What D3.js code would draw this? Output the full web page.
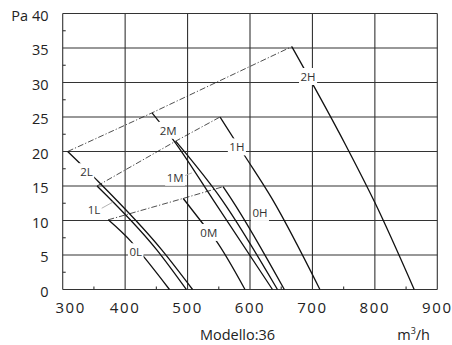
<!DOCTYPE html>
<html>
<head>
<meta charset="utf-8">
<script src="https://cdn.jsdelivr.net/npm/d3@7"></script>
<style>
  body { margin: 0; background: #fff; }
  svg { display: block; font-family: "Open Sans", sans-serif; }
</style>
</head>
<body>
<script>
// axis values
const xTicks = [300, 400, 500, 600, 700, 800, 900];
const yTicks = [0, 5, 10, 15, 20, 25, 30, 35, 40];
const xMinor = [350, 450, 550, 650, 750, 850];
const yMinor = [2.5, 7.5, 12.5, 17.5, 22.5, 27.5, 32.5, 37.5];

// fan curves, [m3/h, Pa]
const c0L = [[373, 10.1], [410, 6.9], [432, 4.5], [471, 0]];
const c1L = [[355, 15], [451, 5.7], [498, 0]];
const c2L = [[308, 20], [352, 16.1], [459, 5.7], [508, 0]];
const c0M = [[493, 13.2], [524, 9.6], [544, 7.3], [592, 0]];
const c1M = [[481, 21.5], [555, 13], [644, 0]];
const c2M = [[443, 25.6], [477, 21.7], [541, 13], [636, 0]];
const c0H = [[557, 14.9], [571, 13], [655, 0]];
const c1H = [[552, 25], [590, 19.6], [635, 13.2], [712, 0]];
const c2H = [[667, 35.2], [754, 20.8], [800, 12.6], [863, 0]];

const curves = [c0L, c1L, c2L, c0M, c1M, c2M, c0H, c1H, c2H];

// dash-dot lines join the top of the L, M and H curves of each step
const steps = [
    [c0L[0], c0M[0], c0H[0]],
    [c1L[0], c1M[0], c1H[0]],
    [c2L[0], c2M[0], c2H[0]]
];

// curve names and where they sit
const labelNames = ["2L", "1L", "0L", "2M", "1M", "0M", "2H", "1H", "0H"];
const labelAt = [[338, 17], [350, 11.5], [417, 5.4], [469, 23], [480, 16.2], [534, 8.2], [693, 30.8], [579, 20.6], [616, 11.1]];
// thin grey pointers from a label to its curve
const leaders = [
    {from: [359, 11.6], to: [381, 12.7]},
    {from: [493, 16.4], to: [507, 16.9]}
];

const width = 452, height = 345;

const x = d3.scaleLinear().domain([300, 900]).range([62.7, 437.3]);
const y = d3.scaleLinear().domain([0, 40]).range([289.5, 13.5]);

const svg = d3.select("body").append("svg")
    .attr("width", width)
    .attr("height", height);

// grid
const grid = svg.append("g")
    .attr("stroke", "#333")
    .attr("stroke-width", 1.1);

grid.selectAll(".vx")
    .data(xTicks)
    .enter()
    .append("line")
    .attr("x1", d => x(d)).attr("x2", d => x(d))
    .attr("y1", y(0)).attr("y2", y(40));

grid.selectAll(".hy")
    .data(yTicks)
    .enter()
    .append("line")
    .attr("x1", x(300)).attr("x2", x(900))
    .attr("y1", d => y(d)).attr("y2", d => y(d));

// minor ticks, inside the frame
grid.selectAll(".mx")
    .data(xMinor)
    .enter()
    .append("line")
    .attr("x1", d => x(d)).attr("x2", d => x(d))
    .attr("y1", y(0)).attr("y2", y(0) - 3);

grid.selectAll(".my")
    .data(yMinor)
    .enter()
    .append("line")
    .attr("x1", x(300)).attr("x2", x(300) + 3)
    .attr("y1", d => y(d)).attr("y2", d => y(d));

// tick labels
svg.append("g")
    .selectAll("text")
    .data(xTicks)
    .enter()
    .append("text")
    .attr("x", (d, i) => x(d) + (i === 0 ? 8 : 0))
    .attr("y", 313)
    .attr("text-anchor", "middle")
    .attr("font-size", 15)
    .attr("letter-spacing", 1.6)
    .attr("fill", "#222")
    .text(d => d);

svg.append("g")
    .selectAll("text")
    .data(yTicks)
    .enter()
    .append("text")
    .attr("x", 48.5)
    .attr("y", d => y(d) + 7)
    .attr("text-anchor", "end")
    .attr("font-size", 14.5)
    .attr("fill", "#222")
    .text(d => d === 40 ? "Pa 40" : d);

svg.append("text")
    .attr("x", 237.5)
    .attr("y", 339.5)
    .attr("text-anchor", "middle")
    .attr("font-size", 14.5)
    .attr("fill", "#222")
    .text("Modello:36");

const unit = svg.append("text")
    .attr("x", 430)
    .attr("y", 339.5)
    .attr("text-anchor", "end")
    .attr("font-size", 14.5)
    .attr("fill", "#222");
unit.append("tspan").text("m");
unit.append("tspan").attr("font-size", 9).attr("dy", -6).text("3");
unit.append("tspan").attr("dy", 6).text("/h");

// curves
const line = d3.line()
    .x(d => x(d[0]))
    .y(d => y(d[1]))
    .curve(d3.curveMonotoneX);

svg.append("g")
    .selectAll("path")
    .data(curves)
    .enter()
    .append("path")
    .attr("d", line)
    .attr("fill", "none")
    .attr("stroke", "#111")
    .attr("stroke-width", 1.3);

svg.append("g")
    .selectAll("path")
    .data(steps)
    .enter()
    .append("path")
    .attr("d", d3.line().x(d => x(d[0])).y(d => y(d[1])))
    .attr("fill", "none")
    .attr("stroke", "#222")
    .attr("stroke-width", 0.8)
    .attr("stroke-dasharray", "6,2,1.2,2");

svg.append("g")
    .selectAll("line")
    .data(leaders)
    .enter()
    .append("line")
    .attr("x1", d => x(d.from[0])).attr("y1", d => y(d.from[1]))
    .attr("x2", d => x(d.to[0])).attr("y2", d => y(d.to[1]))
    .attr("stroke", "#aaa")
    .attr("stroke-width", 0.9);

// labels with white boxes that cut the lines
const lab = svg.append("g")
    .selectAll("g")
    .data(labelNames)
    .enter()
    .append("g")
    .attr("transform", (d, i) => `translate(${x(labelAt[i][0])},${y(labelAt[i][1])})`);

lab.append("text")
    .attr("text-anchor", "middle")
    .attr("dy", "0.35em")
    .attr("font-size", 11.5)
    .attr("fill", "#333")
    .text(d => d);

lab.each(function() {
    const g = d3.select(this);
    const b = g.select("text").node().getBBox();
    g.insert("rect", "text")
        .attr("x", b.x - 1.5)
        .attr("y", b.y - 1)
        .attr("width", b.width + 3)
        .attr("height", b.height + 2)
        .attr("fill", "#fff");
});
</script>
</body>
</html>
